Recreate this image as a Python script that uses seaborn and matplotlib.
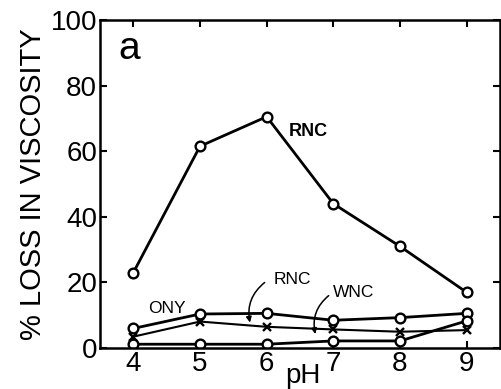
import pandas as pd
import matplotlib
matplotlib.use('Agg')
import matplotlib.pyplot as plt
import seaborn as sns

# valores
ph = [4, 5, 6, 7, 8, 9]
rnc_alto = [23, 61.5, 70.5, 44, 31, 17]
ony = [6.0, 10.4, 10.6, 8.5, 9.3, 10.6]
rnc_bajo = [3.5, 8.1, 6.5, 5.7, 5.0, 5.5]
wnc = [1.2, 1.2, 1.2, 2.2, 2.2, 8.3]

series = {'RNC alto': (rnc_alto, 'o'), 'ONY': (ony, 'o'),
          'RNC bajo': (rnc_bajo, 'x'), 'WNC': (wnc, 'o')}

sns.set_style('ticks')
plt.rcParams['font.family'] = ['Liberation Sans', 'DejaVu Sans']
plt.rcParams.update({'text.color': 'black', 'axes.labelcolor': 'black',
                     'xtick.color': 'black', 'ytick.color': 'black',
                     'axes.edgecolor': 'black'})

fig = plt.figure(figsize=(5.01, 3.89), dpi=100)
ax = fig.add_axes([0.1996, 0.105, 0.7984, 0.844])

for nombre, (valores, marca) in series.items():
    df = pd.DataFrame({'pH': ph, 'loss': valores})
    if marca == 'o':
        sns.lineplot(data=df, x='pH', y='loss', ax=ax, color='black', lw=2,
                     marker='o', markersize=7, markerfacecolor='white',
                     markeredgecolor='black', markeredgewidth=1.7)
    else:
        sns.lineplot(data=df, x='pH', y='loss', ax=ax, color='black', lw=1.5,
                     marker='x', markersize=6, markeredgecolor='black',
                     markeredgewidth=1.7)

ax.set_xlim(3.5, 9.5)
ax.set_ylim(0, 100)
ax.set_xticks(ph)
ax.set_yticks([0, 20, 40, 60, 80, 100])
ax.tick_params(direction='in', length=5, width=1.5, labelsize=20, pad=2,
               top=True, right=True)
for s in ax.spines.values():
    s.set_linewidth(1.8)
ax.set_xlabel('')
ax.set_ylabel('% LOSS IN VISCOSITY', fontsize=21, labelpad=3)
ax.text(6.55, -0.085, 'pH', transform=ax.get_xaxis_transform(),
        fontsize=20, ha='center', va='center')

ax.text(3.78, 91, 'a', fontsize=28, ha='left', va='center', fontweight='light')
ax.text(6.62, 66, 'RNC', fontsize=13, fontweight='bold', ha='center', va='center')
ax.text(4.5, 12.2, 'ONY', fontsize=12.5, ha='center', va='center')
ax.text(6.38, 21, 'RNC', fontsize=12.5, ha='center', va='center')
ax.text(7.3, 16.8, 'WNC', fontsize=12.5, ha='center', va='center')

flecha = dict(arrowstyle='-|>', color='black', lw=1.1, mutation_scale=8,
              connectionstyle='arc3,rad=0.3', shrinkA=0, shrinkB=0)
ax.annotate('', xy=(5.75, 7.8), xytext=(5.97, 20), arrowprops=flecha)
ax.annotate('', xy=(6.73, 4.3), xytext=(6.93, 16), arrowprops=flecha)

fig.savefig('out.png', dpi=100)
